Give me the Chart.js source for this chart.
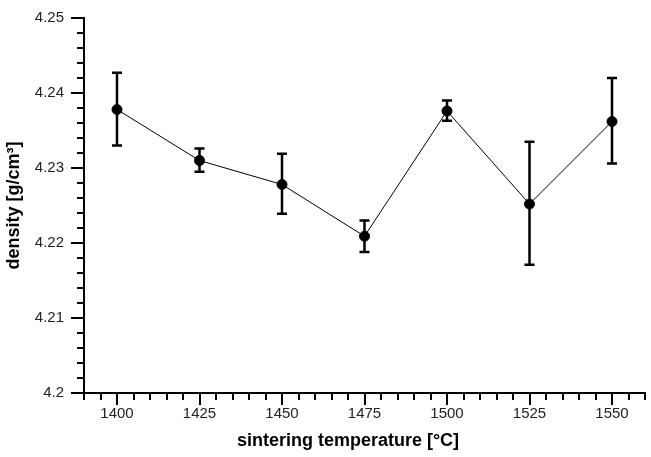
<!DOCTYPE html>
<html>
<head>
<meta charset="utf-8">
<script src="https://cdn.jsdelivr.net/npm/chart.js@4.4.1/dist/chart.umd.min.js"></script>
<style>
  html, body { margin: 0; padding: 0; background: #fff; }
  #wrap { width: 651px; height: 457px; }
</style>
</head>
<body>
<div id="wrap"><canvas id="c" width="651" height="457"></canvas></div>
<script>
// ---- data ----
const temperatures = [1400, 1425, 1450, 1475, 1500, 1525, 1550];
const density      = [4.2378, 4.2310, 4.2278, 4.2209, 4.2376, 4.2252, 4.2362];
const errLow       = [4.2330, 4.2295, 4.2239, 4.2188, 4.2363, 4.2171, 4.2306];
const errHigh      = [4.2427, 4.2326, 4.2319, 4.2230, 4.2390, 4.2335, 4.2420];
const xLabels = [1400, 1425, 1450, 1475, 1500, 1525, 1550];
const yLabels = [4.2, 4.21, 4.22, 4.23, 4.24, 4.25];
const xTitle = 'sintering temperature [°C]';
const yTitle = 'density [g/cm³]';

const points = temperatures.map((t, i) => ({ x: t, y: density[i] }));

const FONT = '"Liberation Sans", Arial, sans-serif';

const errorBars = {
  id: 'errorBars',
  afterDatasetsDraw(chart) {
    const xs = chart.scales.x, ys = chart.scales.y;
    const ctx = chart.ctx;
    ctx.save();
    ctx.strokeStyle = '#000';
    ctx.lineWidth = 2.5;
    ctx.lineCap = 'butt';
    temperatures.forEach((t, i) => {
      const px = xs.getPixelForValue(t);
      const pLo = ys.getPixelForValue(errLow[i]);
      const pHi = ys.getPixelForValue(errHigh[i]);
      ctx.beginPath();
      ctx.moveTo(px, pLo); ctx.lineTo(px, pHi);
      ctx.moveTo(px - 5, pLo); ctx.lineTo(px + 5, pLo);
      ctx.moveTo(px - 5, pHi); ctx.lineTo(px + 5, pHi);
      ctx.stroke();
    });
    ctx.restore();
  }
};

const isMajor = (v, list) => list.some(m => Math.abs(m - v) < 1e-7);

const tickMarks = {
  id: 'tickMarks',
  afterDraw(chart) {
    const xs = chart.scales.x, ys = chart.scales.y;
    const ctx = chart.ctx;
    const area = chart.chartArea;
    ctx.save();
    ctx.strokeStyle = '#000';
    ctx.lineWidth = 2;
    ctx.beginPath();
    xs.ticks.forEach(t => {
      const px = Math.round(xs.getPixelForValue(t.value));
      const len = isMajor(t.value, xLabels) ? 12 : 7;
      ctx.moveTo(px, area.bottom); ctx.lineTo(px, area.bottom + len);
    });
    ys.ticks.forEach(t => {
      const py = Math.round(ys.getPixelForValue(t.value));
      const len = isMajor(t.value, yLabels) ? 13 : 7;
      ctx.moveTo(area.left, py); ctx.lineTo(area.left - len, py);
    });
    ctx.stroke();
    // x-axis title (centred slightly left of the plot centre, as in the reference)
    ctx.fillStyle = '#000';
    ctx.font = 'bold 18px ' + FONT;
    ctx.textAlign = 'center';
    ctx.textBaseline = 'middle';
    const tx = xs.getPixelForValue(1470);
    ctx.fillText(xTitle, tx, 441);
    ctx.restore();
  }
};

const zeroPad = s => { s.paddingTop = 0; s.paddingBottom = 0; s.paddingLeft = 0; s.paddingRight = 0; };

new Chart(document.getElementById('c'), {
  type: 'scatter',
  data: {
    datasets: [{
      data: points,
      showLine: true,
      borderColor: '#000',
      borderWidth: 1,
      backgroundColor: '#000',
      pointRadius: 5,
      pointHoverRadius: 5,
      pointBackgroundColor: '#000',
      pointBorderColor: '#000',
      tension: 0
    }]
  },
  options: {
    responsive: false,
    devicePixelRatio: 1,
    animation: false,
    layout: { padding: { top: 18, right: 6, left: 0, bottom: 0 } },
    plugins: { legend: { display: false }, tooltip: { enabled: false } },
    scales: {
      x: {
        type: 'linear',
        min: 1390, max: 1560,
        afterFit(s) { s.height = 64; zeroPad(s); },
        border: { display: true, color: '#000', width: 2 },
        grid: { display: true, drawOnChartArea: false, drawTicks: false },
        ticks: {
          stepSize: 5, autoSkip: false, maxRotation: 0, padding: 12,
          color: '#222',
          font: { family: FONT, size: 15 },
          callback: v => isMajor(v, xLabels) ? String(v) : ''
        },
        title: { display: false }
      },
      y: {
        type: 'linear',
        min: 4.2, max: 4.25,
        afterFit(s) { s.width = 84; zeroPad(s); },
        border: { display: true, color: '#000', width: 2 },
        grid: { display: true, drawOnChartArea: false, drawTicks: false },
        ticks: {
          stepSize: 0.002, autoSkip: false, padding: 20,
          color: '#222',
          font: { family: FONT, size: 15 },
          callback: v => isMajor(v, yLabels) ? String(parseFloat(v.toFixed(2))) : ''
        },
        title: {
          display: true, text: yTitle, color: '#000',
          font: { family: FONT, size: 18, weight: 'bold' },
          padding: { top: 3, bottom: 0 }
        }
      }
    }
  },
  plugins: [errorBars, tickMarks]
});
</script>
</body>
</html>
